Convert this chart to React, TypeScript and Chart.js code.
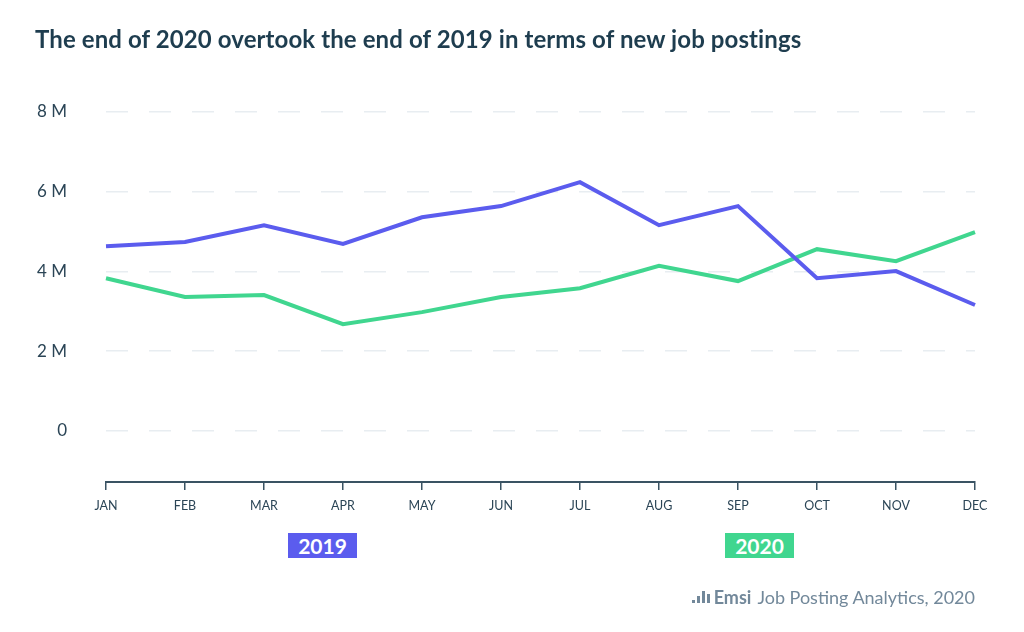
import React, { useEffect, useRef } from "react";
import { Chart, registerables } from "chart.js";

Chart.register(...registerables);

const months = ["JAN", "FEB", "MAR", "APR", "MAY", "JUN", "JUL", "AUG", "SEP", "OCT", "NOV", "DEC"];
const postings2019 = [4.63, 4.74, 5.16, 4.69, 5.36, 5.64, 6.24, 5.16, 5.64, 3.83, 4.01, 3.16];
const postings2020 = [3.83, 3.36, 3.41, 2.68, 2.98, 3.36, 3.58, 4.14, 3.76, 4.56, 4.26, 4.99];
const yTickValues = [0, 2, 4, 6, 8];
const title = "The end of 2020 overtook the end of 2019 in terms of new job postings";
const seriesLabels = ["2019", "2020"];

const PURPLE = "#5B5CEE";
const GREEN = "#40D68F";
const DARK = "#1E3D4F";
const FONT = "Lato, 'Open Sans', sans-serif";

export default function App() {
  const ref = useRef<HTMLCanvasElement | null>(null);

  useEffect(() => {
    document.body.style.margin = "0";
    const ctx = ref.current!.getContext("2d")!;
    const chart = new Chart(ctx, {
      type: "line",
      data: {
        labels: months,
        datasets: [
          {
            label: seriesLabels[0],
            data: postings2019,
            borderColor: PURPLE,
            backgroundColor: PURPLE,
            borderWidth: 4,
            pointRadius: 0,
            tension: 0,
          },
          {
            label: seriesLabels[1],
            data: postings2020,
            borderColor: GREEN,
            backgroundColor: GREEN,
            borderWidth: 4,
            pointRadius: 0,
            tension: 0,
          },
        ],
      },
      options: {
        responsive: false,
        animation: false,
        layout: { padding: { top: 112, left: 0, right: 49, bottom: 100 } },
        plugins: {
          legend: { display: false },
          tooltip: { enabled: false },
          title: { display: false },
        },
        scales: {
          x: {
            offset: false,
            grid: {
              drawOnChartArea: false,
              drawTicks: true,
              tickLength: 8,
              color: "#3A5363",
              lineWidth: 1.5,
            },
            border: { display: true, color: "#3A5363", width: 2 },
            ticks: {
              color: "#2B4556",
              font: { family: FONT, size: 12.5 },
              padding: 8,
              maxRotation: 0,
              autoSkip: false,
            },
            afterFit: (s: any) => {
              s.height = 50;
            },
          },
          y: {
            min: -1.28,
            max: 8,
            afterBuildTicks: (s: any) => {
              s.ticks = yTickValues.map((v) => ({ value: v }));
            },
            grid: {
              drawTicks: false,
              color: "#E8EDF1",
              lineWidth: 1.5,
            },
            border: { display: false, dash: [22, 21] },
            ticks: {
              color: "#2B4556",
              font: { family: FONT, size: 17 },
              padding: 39,
              callback: (v: any) => (Number(v) === 0 ? "0" : `${v} M`),
            },
            afterFit: (s: any) => {
              s.width = 106;
            },
          },
        },
      },
    });
    return () => chart.destroy();
  }, []);

  const boxStyle = (bg: string, left: number): React.CSSProperties => ({
    position: "absolute",
    left,
    top: 533,
    width: 69,
    height: 25,
    background: bg,
    color: "#fff",
    fontFamily: FONT,
    fontWeight: 700,
    fontSize: 21,
    lineHeight: "25px",
    textAlign: "center",
  });

  return (
    <div style={{ position: "relative", width: 1024, height: 632, background: "#fff", overflow: "hidden" }}>
      <canvas ref={ref} width={1024} height={632} style={{ position: "absolute", left: 0, top: 0 }} />
      <div
        style={{
          position: "absolute",
          left: 35,
          top: 24,
          fontFamily: FONT,
          fontWeight: 700,
          fontSize: 24,
          letterSpacing: 0.1,
          color: DARK,
          whiteSpace: "nowrap",
        }}
      >
        {title}
      </div>
      <div style={boxStyle(PURPLE, 288)}>{seriesLabels[0]}</div>
      <div style={boxStyle(GREEN, 725)}>{seriesLabels[1]}</div>
      <div
        style={{
          position: "absolute",
          right: 49,
          top: 586,
          fontFamily: FONT,
          fontSize: 18,
          color: "#72889A",
          whiteSpace: "nowrap",
          display: "flex",
          alignItems: "center",
        }}
      >
        <span style={{ display: "inline-flex", alignItems: "flex-end", height: 12, gap: 2, marginRight: 4 }}>
          <span style={{ width: 3, height: 3, background: "#72889A" }} />
          <span style={{ width: 3, height: 7, background: "#72889A" }} />
          <span style={{ width: 3, height: 12, background: "#72889A" }} />
          <span style={{ width: 3, height: 9, background: "#72889A" }} />
        </span>
        <span style={{ fontWeight: 700, marginRight: 6 }}>Emsi</span>
        <span>Job Posting Analytics, 2020</span>
      </div>
    </div>
  );
}
